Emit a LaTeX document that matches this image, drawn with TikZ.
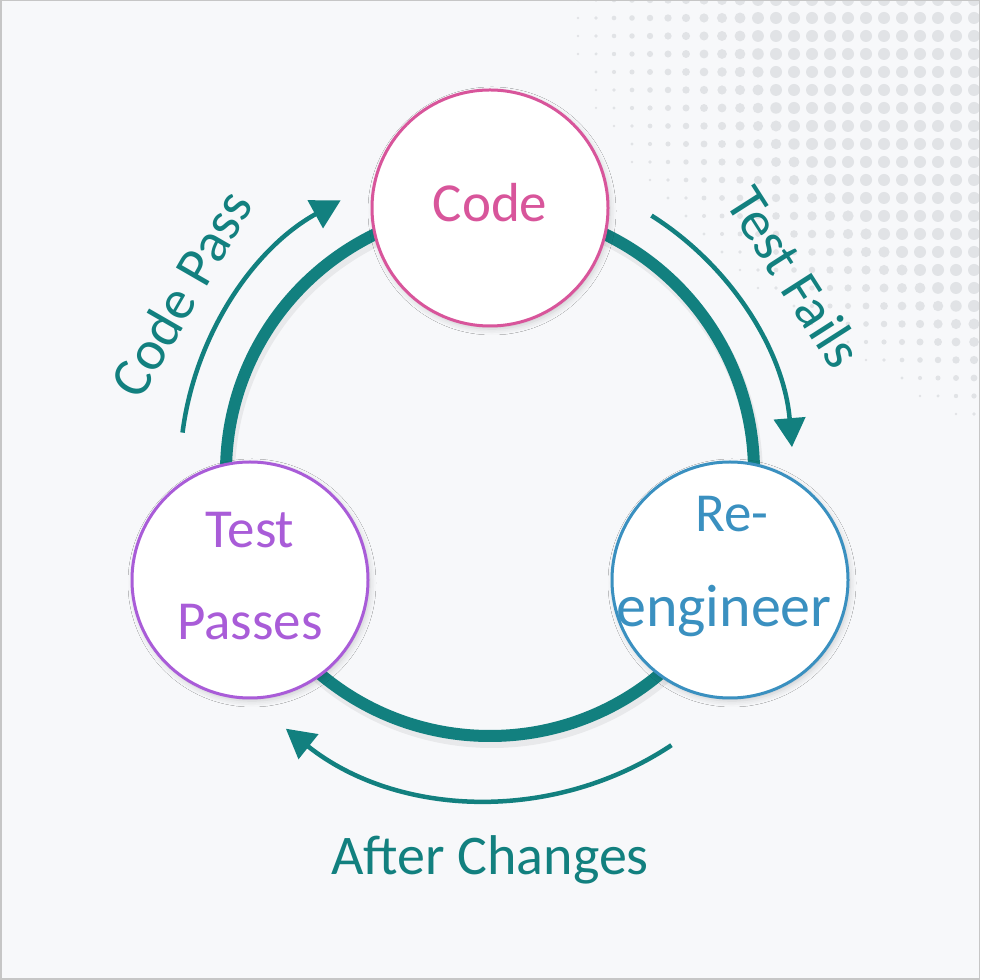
\documentclass[tikz,border=0pt]{standalone}
\usepackage{fontspec}
\setmainfont{Carlito}
\usetikzlibrary{arrows.meta,shadows.blur,calc}
\definecolor{tealc}{HTML}{12807F}
\definecolor{codec}{HTML}{D8559B}
\definecolor{testc}{HTML}{A95CD8}
\definecolor{rec}{HTML}{3A90C0}
\definecolor{bgc}{HTML}{F7F8FA}
\definecolor{dotc}{HTML}{E1E3E6}
\begin{document}
\begin{tikzpicture}[x=1pt,y=1pt,
  stage/.style={circle, minimum size=236pt, inner sep=0pt, fill=white, line width=3pt,
    blur shadow={shadow xshift=2pt, shadow yshift=-3pt, shadow blur radius=6pt, shadow opacity=18}},
  lbl/.style={font=\fontsize{55}{60}\selectfont, inner sep=0pt, anchor=base},
  outl/.style={font=\fontsize{56}{60}\selectfont, inner sep=0pt, text=tealc},
  ring/.style={draw=tealc, line width=12pt},
  flow/.style={draw=tealc, line width=4.5pt, -{Triangle[length=29pt,width=31pt]}}]
\fill[bgc] (0,0) rectangle (980,980);
\useasboundingbox (0,0) rectangle (980,980);
\begin{scope}
  \clip (0,0) rectangle (980,980);
  \foreach \px in {560,578,...,990} {
    \foreach \py in {0,18,...,480} {
      \pgfmathsetmacro{\f}{min(1,(\px-560)/200-(\py/300)^2)}
      \ifdim\f pt>0.05pt
        \fill[dotc] (\px,980-\py) circle[radius=1+5*\f];
      \fi
    }
  }
\end{scope}
\draw[gray!45, line width=1.5pt] (0.75,0.75) rectangle (979.25,979.25);

\coordinate (ctr) at (490,508);
\draw[black, opacity=0.06, line width=14pt] ($(ctr)+(2,-5)$) circle[radius=264];
\draw[ring] (ctr) circle[radius=264];

\node[stage, draw=codec] (code) at (490,772) {};
\node[stage, draw=testc] (tp) at (250,400) {};
\node[stage, draw=rec] (re) at (730,400) {};

\node[lbl, text=codec] (codeT) at (490,758) {Code};
\node[lbl, text=testc] (tpT1) at (250,432) {Test};
\node[lbl, text=testc] (tpT2) at (250,340) {Passes};
\node[lbl, text=rec] (reT1) at (732,448) {Re-};
\node[lbl, text=rec, font=\fontsize{60}{64}\selectfont] (reT2) at (724,353) {engineer};

\coordinate (cpS) at ($(ctr)+(172.7:310)$);
\draw[flow] (cpS) arc[start angle=172.7, end angle=118.8, radius=310];
\coordinate (tfS) at ($(ctr)+(57.8:303)$);
\draw[flow] (tfS) arc[start angle=57.8, end angle=4.7, radius=303];
\coordinate (acS) at ($(ctr)+(-56.4:328)$);
\draw[flow] (acS) arc[start angle=-56.4, end angle=-128.5, radius=328];

\node[outl, rotate=60] (cpL) at ($(ctr)+(150:357)$) {Code Pass};
\node[outl, rotate=-57.4] (tfL) at ($(ctr)+(32.6:362)$) {Test Fails};
\node[outl, anchor=base] (acL) at (490,105) {After Changes};
\end{tikzpicture}
\end{document}
